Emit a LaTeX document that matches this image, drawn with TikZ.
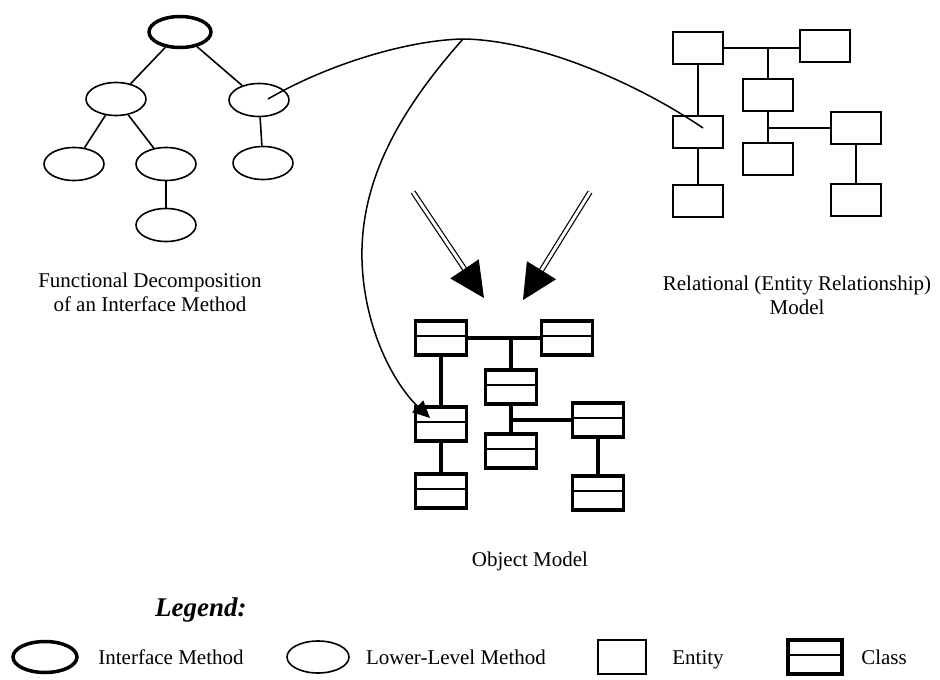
\documentclass[tikz,border=0pt]{standalone}
\usepackage{fontspec}
\setmainfont{Liberation Serif}
\usetikzlibrary{arrows.meta,calc,shapes.geometric}

\begin{document}
\begin{tikzpicture}[x=1pt,y=-1pt,
  every node/.style={font=\fontsize{21}{24}\selectfont},
  method/.style={ellipse, draw, line width=1.6pt, minimum width=60pt,
    minimum height=33pt, inner sep=0pt},
  ifmethod/.style={method, line width=3.5pt, minimum width=62pt, minimum height=31pt},
  entity/.style={rectangle, draw, line width=2pt, minimum width=50pt,
    minimum height=32pt, inner sep=0pt},
  classbox/.style={rectangle, draw, line width=3.8pt, minimum width=51pt,
    minimum height=34pt, inner sep=0pt,
    path picture={\draw[line width=2pt]
      ([yshift=2pt]path picture bounding box.west) --
      ([yshift=2pt]path picture bounding box.east);}},
  treeline/.style={line width=1.6pt},
  erline/.style={line width=1.8pt},
  objline/.style={line width=3.4pt},
  link/.style={line width=1.5pt},
  dbl/.style={double, double distance=3pt, line width=1.2pt},
  bighead/.style={line width=1pt, -{Triangle[length=35pt,width=34pt]}},
  lbl/.style={inner sep=0pt, anchor=base}
]
\useasboundingbox (0,0) rectangle (940,680);
\fill[white] (0,0) rectangle (940,680);

% ---- functional decomposition tree ----
\node[ifmethod] (root) at (180,32) {};
\node[method] (m1) at (116,99) {};
\node[method] (m2) at (259,100) {};
\node[method] (m3) at (74,164) {};
\node[method] (m4) at (166,164) {};
\node[method] (m5) at (263,163) {};
\node[method] (m6) at (166,225) {};
\draw[treeline] (root) -- (m1);
\draw[treeline] (root) -- (m2);
\draw[treeline] (m1) -- (m3);
\draw[treeline] (m1) -- (m4);
\draw[treeline] (m2) -- (m5);
\draw[treeline] (m4) -- (m6);
\node[align=center] (ftext) at (150,292)
  {Functional Decomposition\\of an Interface Method};

% ---- relational model ----
\node[entity] (r1) at (698,48) {};
\node[entity] (r2) at (825,46) {};
\node[entity] (r3) at (768,95) {};
\node[entity] (r4) at (698,132) {};
\node[entity] (r5) at (768,159) {};
\node[entity] (r6) at (856,128) {};
\node[entity] (r7) at (698,201) {};
\node[entity] (r8) at (856,200) {};
\draw[erline] (r1.east) -- (r1.east -| r2.west);
\draw[erline] (r3.north) -- (r3.north |- r1.east);
\draw[erline] (r1) -- (r4);
\draw[erline] (r4) -- (r7);
\draw[erline] (r3) -- (r5);
\draw[erline] (r6.west) -- (r6.west -| r3.south);
\draw[erline] (r6) -- (r8);
\node[align=center] (rtext) at (797,295)
  {Relational (Entity Relationship)\\Model};

% ---- object model ----
\node[classbox] (o1) at (441,338) {};
\node[classbox] (o2) at (567,338) {};
\node[classbox] (o3) at (511,387) {};
\node[classbox] (o4) at (441,424) {};
\node[classbox] (o5) at (511,451) {};
\node[classbox] (o6) at (598,420) {};
\node[classbox] (o7) at (441,491) {};
\node[classbox] (o8) at (598,493) {};
\draw[objline] (o1) -- (o2);
\draw[objline] (o3.north) -- (o3.north |- o1.east);
\draw[objline] (o1) -- (o4);
\draw[objline] (o4) -- (o7);
\draw[objline] (o3) -- (o5);
\draw[objline] (o6.west) -- (o6.west -| o3.south);
\draw[objline] (o6) -- (o8);
\node[lbl] (otext) at (530,566) {Object Model};

% ---- mapping curves ----
\coordinate (cstart) at ($(m2.center)+(9,-1)$);
\coordinate (cend) at ($(r4.center)+(5,-4)$);
\coordinate (peak) at (463,39);
\coordinate (ctip) at ($(o4.center)+(-11,-6)$);
\draw[link] (cstart) .. controls (330,63) and (410,40) .. (peak)
  .. controls (540,40) and (640,85) .. (cend);
\draw[link, -{Triangle[length=17pt,width=16pt]}] (peak)
  .. controls (400,110) and (360,180) .. (362,260)
  .. controls (364,330) and (395,385) .. (ctip);

% ---- transformation arrows ----
\coordinate (da1) at (413,192);
\coordinate (dt1) at (484,298);
\coordinate (da2) at (590,192);
\coordinate (dt2) at (523,300);
\draw[dbl, shorten >=30pt] (da1) -- (dt1);
\draw[bighead] ($(dt1)!34pt!(da1)$) -- (dt1);
\draw[dbl, shorten >=30pt] (da2) -- (dt2);
\draw[bighead] ($(dt2)!34pt!(da2)$) -- (dt2);

% ---- legend ----
\node[font=\fontsize{27}{30}\selectfont\bfseries\itshape, anchor=west, inner sep=0pt]
  (legend) at (155,610) {Legend:};
\node[ifmethod, minimum width=64pt] (k1) at (45,657) {};
\node[lbl] (k1t) at (171,664) {Interface Method};
\node[method, minimum width=62pt, minimum height=32pt] (k2) at (318,657) {};
\node[lbl] (k2t) at (456,664) {Lower-Level Method};
\node[entity, minimum width=48pt, minimum height=34pt] (k3) at (622,657) {};
\node[lbl] (k3t) at (698,664) {Entity};
\node[classbox, minimum width=54pt] (k4) at (815,657) {};
\node[lbl] (k4t) at (884,664) {Class};
\end{tikzpicture}
\end{document}
